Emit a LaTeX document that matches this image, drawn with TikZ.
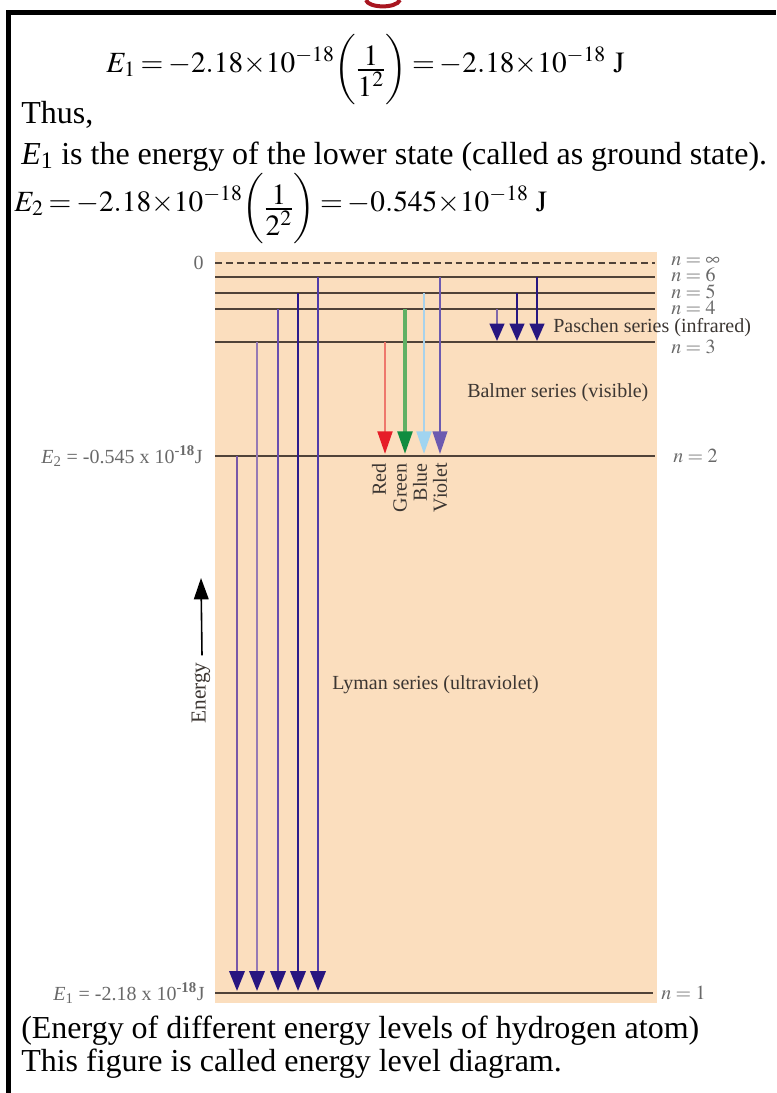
\documentclass[tikz,border=0pt]{standalone}
\usepackage{amsmath}
\usepackage{mathptmx}
\usepackage[no-math]{fontspec}
\setmainfont{Liberation Serif}
\usetikzlibrary{arrows.meta}

\definecolor{peach}{RGB}{251,222,190}
\definecolor{levelgrey}{RGB}{80,66,56}
\definecolor{labelgrey}{RGB}{105,105,105}
\definecolor{seriesgrey}{RGB}{60,54,50}
\definecolor{navy}{RGB}{40,22,128}
\definecolor{lymanA}{RGB}{120,88,168}
\definecolor{lymanB}{RGB}{150,122,180}
\definecolor{lymanC}{RGB}{104,78,176}
\definecolor{lymanD}{RGB}{42,26,140}
\definecolor{lymanE}{RGB}{80,60,170}
\definecolor{redline}{RGB}{238,120,108}
\definecolor{redhead}{RGB}{230,30,40}
\definecolor{greenline}{RGB}{96,176,100}
\definecolor{greenhead}{RGB}{16,140,64}
\definecolor{blueline}{RGB}{168,210,235}
\definecolor{bluehead}{RGB}{160,212,240}
\definecolor{violetline}{RGB}{108,90,176}
\definecolor{paschenA}{RGB}{128,104,170}
\definecolor{titlered}{RGB}{168,22,32}

% compact fraction in tall brackets, set a little low as in the scan
\newcommand{\bracefrac}[2]{\raisebox{-4pt}{$\left(\vcenter{\hbox{\rule{0pt}{48pt}}}\frac{\textstyle #1}{\textstyle #2}\right)$}}
\newcommand{\tighteq}{\thickmuskip=3mu\relax}

\begin{document}
\begin{tikzpicture}[x=0.75pt,y=-0.75pt,>=Stealth,
  body/.style={font=\fontsize{24}{28}\selectfont,inner sep=0pt},
  eqn/.style={font=\fontsize{22}{26}\selectfont,inner sep=0pt},
  lbl/.style={font=\fontsize{15}{17}\selectfont,inner sep=0pt},
  level/.style={draw=levelgrey,line width=2.2pt},
  lyman/.style={line width=1.9pt,-{Triangle[width=11.5pt,length=15pt,color=navy]}},
  balmer/.style={line width=2.2pt},
  paschen/.style={line width=1.6pt,-{Triangle[width=11pt,length=13pt,color=navy]}}]

\useasboundingbox (0,0) rectangle (776,1093);

% =====================
% Energy levels (y in px)
% =====================
\def\LevInfY{263}
\def\LevSixY{277}
\def\LevFiveY{293}
\def\LevFourY{309}
\def\LevThreeY{342}
\def\LevTwoY{456}
\def\LevOneY{993}

% =====================
% Page frame
% =====================
\draw[line width=3.4pt] (8.5,1093) -- (8.5,12.5) -- (776,12.5);
\draw[titlered,line width=3pt] (366,0) .. controls (368,8) and (396,9) .. (400,0);

% =====================
% Text and equations
% =====================
\node[eqn,anchor=base west] (eqone) at (106,72)
  {$\tighteq E_1 = -2.18{\times}10^{-18}\bracefrac{1}{1^2} = -2.18{\times}10^{-18}\ \mathrm{J}$};
\node[body,anchor=base west] (thus) at (21,123) {Thus,};
\node[body,anchor=base west] (ground) at (21,164)
  {\textit{E}\textsubscript{1} is the energy of the lower state (called as ground state).};
\node[eqn,anchor=base west] (eqtwo) at (14,211)
  {$\tighteq E_2 = -2.18{\times}10^{-18}\bracefrac{1}{2^2} = -0.545{\times}10^{-18}\ \mathrm{J}$};

% =====================
% Diagram background and levels
% =====================
\fill[peach] (215,252) rectangle (657,1003);

\draw[level,dash pattern=on 5.2pt off 3pt] (215,\LevInfY) -- (655,\LevInfY);
\foreach \y in {\LevSixY,\LevFiveY,\LevFourY,\LevThreeY,\LevTwoY}
  \draw[level] (215,\y) -- (655,\y);
\draw[level] (215,\LevOneY) -- (653,\LevOneY);

% level labels
\node[lbl,labelgrey,anchor=east] (zero) at (204,\LevInfY) {0};
\node[lbl,labelgrey,anchor=west] (ninf) at (671,\LevInfY-2) {$n=\infty$};
\node[lbl,labelgrey,anchor=west] (nsix) at (671,\LevSixY-2) {$n=6$};
\node[lbl,labelgrey,anchor=west] (nfive) at (671,\LevFiveY-1) {$n=5$};
\node[lbl,labelgrey,anchor=west] (nfour) at (671,\LevFourY-1) {$n=4$};
\node[lbl,labelgrey,anchor=west] (nthree) at (671,\LevThreeY+5) {$n=3$};
\node[lbl,labelgrey,anchor=west] (ntwo) at (673,\LevTwoY) {$n=2$};
\node[lbl,labelgrey,anchor=west] (none) at (661,\LevOneY) {$n=1$};

\node[lbl,labelgrey,anchor=east] (etwo) at (203,\LevTwoY)
  {\textit{E}\textsubscript{2} = -0.545 x 10\textsuperscript{-\textbf{18}}J};
\node[lbl,labelgrey,anchor=east] (eone) at (205,\LevOneY)
  {\textit{E}\textsubscript{1} = -2.18 x 10\textsuperscript{-\textbf{18}}J};

% =====================
% Lyman series
% =====================
\foreach \x/\y/\c in {237/\LevTwoY/lymanA,257/\LevThreeY/lymanB,
    278/\LevFourY/lymanC,298/\LevFiveY/lymanD,318/\LevSixY/lymanE}
  \draw[lyman,draw=\c] (\x,\y) -- (\x,\LevOneY-2);
\node[lbl,seriesgrey,anchor=west] (lyman) at (332,685) {Lyman series (ultraviolet)};

% =====================
% Balmer series
% =====================
\draw[balmer,redline,-{Triangle[width=11pt,length=17pt,color=redhead]}]
  (385,\LevThreeY) -- (385,\LevTwoY-2);
\draw[balmer,greenline,line width=2.6pt,-{Triangle[width=11pt,length=17pt,color=greenhead]}]
  (405,\LevFourY) -- (405,\LevTwoY-2);
\draw[balmer,blueline,-{Triangle[width=11pt,length=17pt,color=bluehead]}]
  (424,\LevFiveY) -- (424,\LevTwoY-2);
\draw[balmer,violetline,line width=1.6pt,-{Triangle[width=11pt,length=17pt,color=violetline]}]
  (440,\LevSixY) -- (440,\LevTwoY-2);

\node[lbl,seriesgrey,rotate=90,anchor=east] (red) at (379,463) {Red};
\node[lbl,seriesgrey,rotate=90,anchor=east] (green) at (400,463) {Green};
\node[lbl,seriesgrey,rotate=90,anchor=east] (blue) at (420,463) {Blue};
\node[lbl,seriesgrey,rotate=90,anchor=east] (violet) at (440,463) {Violet};
\node[lbl,seriesgrey,anchor=west] (balmer) at (467,393) {Balmer series (visible)};

% =====================
% Paschen series
% =====================
\draw[paschen,draw=paschenA] (497,\LevFourY) -- (497,\LevThreeY-1);
\draw[paschen,draw=navy] (517,\LevFiveY) -- (517,\LevThreeY-1);
\draw[paschen,draw=navy] (537,\LevSixY) -- (537,\LevThreeY-1);
\node[lbl,seriesgrey,anchor=west] (paschen) at (553,328) {Paschen series (infrared)};

% =====================
% Energy axis
% =====================
\node[lbl,seriesgrey,rotate=90,font=\fontsize{16}{18}\selectfont] (energy) at (201,693) {Energy};
\coordinate (energytip) at (201,578);
\draw[line width=1.2pt,-{Triangle[width=11pt,length=16pt]}] ([xshift=0.75pt,yshift=5pt]energy.east) -- (energytip);

% =====================
% Caption
% =====================
\node[body,anchor=base west] (captionA) at (21,1038)
  {(Energy of different energy levels of hydrogen atom)};
\node[body,anchor=base west] (captionB) at (21,1071)
  {This figure is called energy level diagram.};

\end{tikzpicture}
\end{document}
